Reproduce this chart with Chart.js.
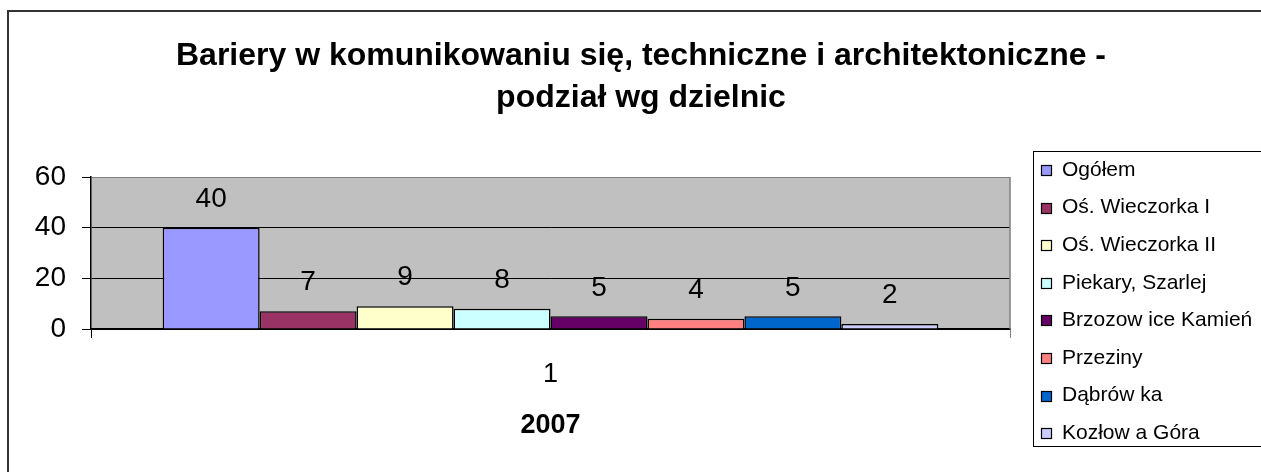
<!DOCTYPE html>
<html><head><meta charset="utf-8">
<script src="https://cdn.jsdelivr.net/npm/chart.js@4/dist/chart.umd.min.js"></script>
<style>html,body{margin:0;padding:0;background:#fff;overflow:hidden}canvas{display:block}</style>
</head><body>
<canvas id="c" width="1261" height="472"></canvas>
<script>
const titleLines = ['Bariery w komunikowaniu się, techniczne i architektoniczne -', 'podział wg dzielnic'];
const categories = ['1'];
const xAxisTitle = '2007';
const seriesNames = ['Ogółem', 'Oś. Wieczorka I', 'Oś. Wieczorka II', 'Piekary, Szarlej', 'Brzozow ice Kamień', 'Przeziny', 'Dąbrów ka', 'Kozłow a Góra'];
const seriesValues = [40, 7, 9, 8, 5, 4, 5, 2];
const seriesColors = ['#9999FF', '#993366', '#FFFFCC', '#CCFFFF', '#660066', '#FF8080', '#0066CC', '#CCCCFF'];
const yTicks = [0, 20, 40, 60];

const FONT = 'Arial, "Liberation Sans", sans-serif';

const decor = {
  id: 'decor',
  beforeDraw(chart) {
    const ctx = chart.ctx, a = chart.chartArea;
    ctx.save();
    ctx.fillStyle = '#fff';
    ctx.fillRect(0, 0, chart.width, chart.height);
    ctx.fillStyle = '#C0C0C0';
    ctx.fillRect(a.left, a.top, a.right - a.left, a.bottom - a.top);
    ctx.restore();
  },
  afterDatasetsDraw(chart) {
    const ctx = chart.ctx, a = chart.chartArea;
    ctx.save();
    ctx.strokeStyle = '#808080';
    ctx.lineWidth = 1.5;
    ctx.beginPath();
    ctx.moveTo(a.right, a.top);
    ctx.lineTo(a.right, a.bottom);
    ctx.stroke();
    ctx.font = '28px ' + FONT;
    ctx.fillStyle = '#000';
    ctx.textAlign = 'center';
    ctx.textBaseline = 'middle';
    chart.data.datasets.forEach((ds, i) => {
      const meta = chart.getDatasetMeta(i);
      meta.data.forEach((bar, j) => {
        ctx.fillText(String(ds.data[j]), bar.x, bar.y - 28.5);
      });
    });
    ctx.restore();
  },
  afterDraw(chart) {
    const ctx = chart.ctx;
    ctx.save();
    // outer chart border
    ctx.strokeStyle = '#333';
    ctx.lineWidth = 2;
    ctx.strokeRect(8, 11, 1400, 1000);
    // title
    ctx.fillStyle = '#000';
    ctx.font = 'bold 32px ' + FONT;
    ctx.textAlign = 'center';
    ctx.textBaseline = 'alphabetic';
    ctx.fillText(titleLines[0], 641, 65);
    ctx.fillText(titleLines[1], 641, 107);
    // legend
    ctx.strokeStyle = '#000';
    ctx.lineWidth = 1;
    ctx.strokeRect(1033.5, 151.5, 400, 295);
    ctx.font = '21px ' + FONT;
    ctx.textAlign = 'left';
    ctx.textBaseline = 'middle';
    chart.data.datasets.forEach((ds, i) => {
      const yc = 170 + i * 37.6;
      ctx.fillStyle = ds.backgroundColor;
      ctx.fillRect(1041, Math.round(yc) - 5, 11, 11);
      ctx.strokeStyle = '#000';
      ctx.lineWidth = 1.2;
      ctx.strokeRect(1041.5, Math.round(yc) - 4.5, 10, 10);
      ctx.fillStyle = '#000';
      ctx.fillText(ds.label, 1062, yc);
    });
    ctx.restore();
  }
};

new Chart(document.getElementById('c'), {
  type: 'bar',
  data: {
    labels: categories,
    datasets: seriesNames.map((name, i) => ({
      label: name,
      data: [seriesValues[i]],
      backgroundColor: seriesColors[i],
      borderColor: '#000',
      borderWidth: 1.5,
      categoryPercentage: 0.844,
      barPercentage: 1
    }))
  },
  options: {
    responsive: false,
    animation: false,
    events: [],
    layout: { padding: { top: 177, right: 251, left: 0, bottom: 0 } },
    plugins: { legend: { display: false }, title: { display: false }, tooltip: { enabled: false } },
    scales: {
      x: {
        offset: true,
        grid: {
          offset: true, drawOnChartArea: false, drawTicks: true, tickLength: 9,
          color: c => c.type === 'tick' ? '#000' : '#808080',
          tickColor: c => c.type === 'tick' ? '#000' : '#808080'
        },
        border: { display: true, color: '#000', width: 1.5 },
        ticks: { font: { size: 27, family: FONT }, color: '#000', padding: 20 },
        title: { display: true, text: xAxisTitle, color: '#000', font: { size: 27, weight: 'bold', family: FONT }, padding: { top: 0, bottom: 30 } },
        afterFit: s => { s.height = 143; }
      },
      y: {
        min: yTicks[0], max: yTicks[yTicks.length - 1],
        afterBuildTicks: s => { s.ticks = yTicks.map(v => ({ value: v })); },
        grid: {
          color: c => (c.tick && c.tick.value === 60) ? '#808080' : '#000',
          tickColor: '#000', tickLength: 9, lineWidth: 1
        },
        border: { display: true, color: '#000', width: 1.5 },
        ticks: { font: { size: 28, family: FONT }, color: '#000', padding: 16 },
        afterFit: s => { s.width = 91; }
      }
    }
  },
  plugins: [decor]
});
</script>
</body></html>
